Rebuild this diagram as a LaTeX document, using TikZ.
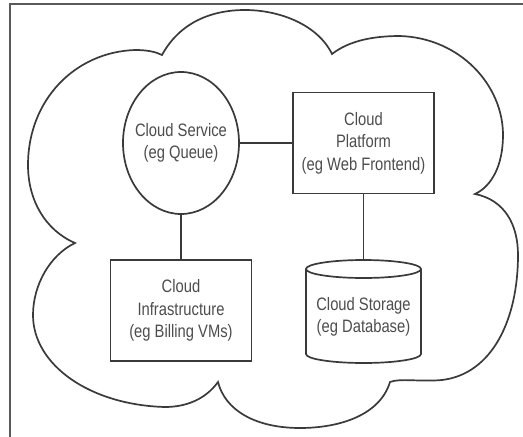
\documentclass[tikz,border=0pt]{standalone}
\usepackage{fontspec}
\setmainfont{Liberation Sans}[FakeStretch=0.82]
\usetikzlibrary{positioning}
\usetikzlibrary{shapes.geometric}

\definecolor{linegray}{HTML}{3A3A3A}
\definecolor{textgray}{HTML}{4D4D4D}
\definecolor{framegray}{HTML}{5A5A5A}

\tikzset{
  comp/.style={draw=linegray, line width=1.7pt, fill=white, text=textgray, align=center, font=\fontsize{18}{22.5}\selectfont},
  compbox/.style={comp, rectangle, minimum width=141pt, minimum height=101pt},
  link/.style={draw=linegray, line width=1.7pt}
}

\begin{document}
\begin{tikzpicture}[x=1pt, y=-1pt]

\useasboundingbox (0,0) rectangle (523,437);

%frame
\draw[framegray, line width=1.5pt] (10,437) -- (10,4) -- (523,4);

%cloud notches
\coordinate (N1) at (162,55);
\coordinate (N2) at (332,54);
\coordinate (N3) at (475,194);
\coordinate (N4) at (390,382);
\coordinate (N5) at (218,382);
\coordinate (N6) at (75,243);

\draw[linegray, line width=1.7pt, fill=white]
  (N1) .. controls (180,22) and (212,10) .. (245,10)
       .. controls (280,10) and (318,25) .. (N2)
       .. controls (350,40) and (375,36) .. (400,36)
       .. controls (460,38) and (503,85) .. (503,135)
       .. controls (503,165) and (492,186) .. (N3)
       .. controls (505,200) and (518,225) .. (518,255)
       .. controls (518,320) and (492,374) .. (442,380)
       .. controls (420,382) and (400,378) .. (N4)
       .. controls (380,415) and (340,428) .. (300,428)
       .. controls (255,428) and (225,410) .. (N5)
       .. controls (205,400) and (185,407) .. (165,407)
       .. controls (90,405) and (33,365) .. (33,315)
       .. controls (33,285) and (50,255) .. (N6)
       .. controls (45,230) and (28,200) .. (28,165)
       .. controls (28,100) and (75,52) .. (135,50)
       .. controls (148,50) and (156,52) .. (N1) -- cycle;

%components
\node[comp, ellipse, minimum width=116pt, minimum height=142pt, inner sep=0pt, inner xsep=-6pt] (service) at (181,143) {Cloud Service\\(eg Queue)};
\node[compbox] (platform) at (363.5,143) {Cloud\\Platform\\(eg Web Frontend)};
\node[compbox] (infra) at (181,310.5) {Cloud\\Infrastructure\\(eg Billing VMs)};

%storage cylinder
\coordinate (stortop) at (363.5,260);
\draw[linegray, line width=1.7pt, fill=white] (306,269) -- (306,354) arc[start angle=180, end angle=360, x radius=57.5pt, y radius=9pt] -- (421,269);
\draw[linegray, line width=1.7pt, fill=white] (363.5,269) ellipse[x radius=57.5pt, y radius=9pt];
\node[text=textgray, align=center, font=\fontsize{18}{22.5}\selectfont] (storage) at (363.5,317) {Cloud Storage\\(eg Database)};

%links
\draw[link] (service.east) -- (platform.west);
\draw[link] (service.south) -- (infra.north);
\draw[link] (platform.south) -- (stortop);

\end{tikzpicture}
\end{document}
